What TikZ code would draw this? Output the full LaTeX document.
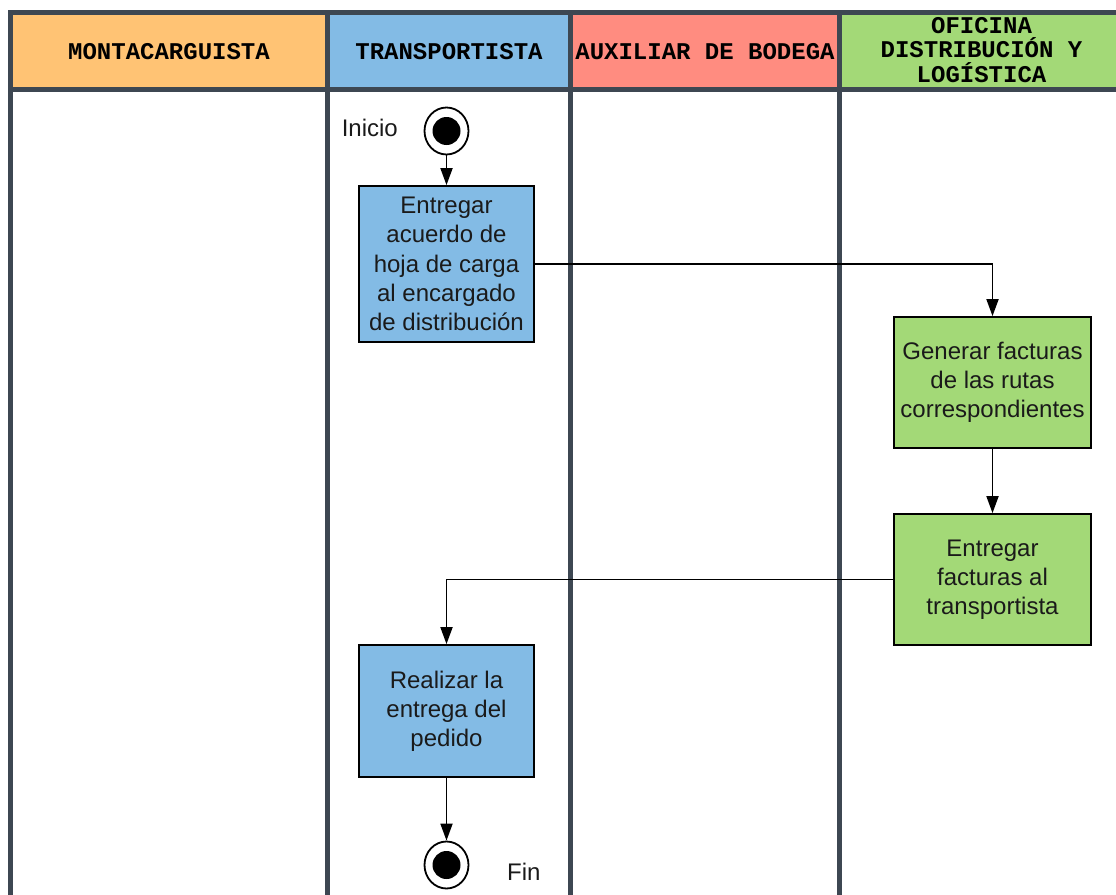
\documentclass[tikz,border=0pt]{standalone}
\usepackage{fontspec}
\setmainfont{Liberation Sans}
\newfontfamily\lanefont{Liberation Mono}
\usetikzlibrary{arrows.meta,shapes.geometric}

\definecolor{laneline}{HTML}{3D4752}
\definecolor{hdrorange}{HTML}{FFC374}
\definecolor{hdrblue}{HTML}{83BBE5}
\definecolor{hdrred}{HTML}{FF8C80}
\definecolor{hdrgreen}{HTML}{A3D977}
\definecolor{ink}{HTML}{1A1A1A}

\tikzset{
  lanerule/.style={draw=laneline, line width=5pt},
  hdrtext/.style={font=\lanefont\bfseries\fontsize{24}{24.5}\selectfont,
    text=black, align=center, inner sep=0pt},
  task/.style={draw=black, line width=1.8pt, rectangle, inner sep=0pt,
    align=center, text=ink, font=\fontsize{24}{29.2}\selectfont},
  bluetask/.style={task, fill=hdrblue},
  greentask/.style={task, fill=hdrgreen},
  outerring/.style={ellipse, draw=black, line width=1.8pt, fill=white,
    minimum width=44pt, minimum height=47pt, inner sep=0pt},
  dot/.style={circle, fill=black, minimum size=28pt, inner sep=0pt},
  flow/.style={draw=black, line width=1.8pt,
    -{Triangle[length=17pt,width=12pt]}},
  plain/.style={font=\fontsize{24}{29}\selectfont, text=ink, inner sep=0pt}
}

\begin{document}
\begin{tikzpicture}[x=1pt, y=-1pt]
  \useasboundingbox (0,0) rectangle (1116,894);

  % header cells
  \fill[hdrorange] (10.5,12.5) rectangle (327.5,89);
  \fill[hdrblue]   (327.5,12.5) rectangle (570.5,89);
  \fill[hdrred]    (570.5,12.5) rectangle (839.5,89);
  \fill[hdrgreen]  (839.5,12.5) rectangle (1126,89);

  % lane frame
  \draw[lanerule] (8,12.5) -- (1130,12.5);
  \draw[lanerule] (8,89) -- (1130,89);
  \foreach \lx in {10.5,327.5,570.5,839.5}
    \draw[lanerule] (\lx,10) -- (\lx,900);

  % lane titles
  \node[hdrtext] (h1) at (169,52) {MONTACARGUISTA};
  \node[hdrtext] (h2) at (449,52) {TRANSPORTISTA};
  \node[hdrtext] (h3) at (705,52) {AUXILIAR DE BODEGA};
  \node[hdrtext] (h4) at (981.5,50) {OFICINA\\DISTRIBUCIÓN Y\\LOGÍSTICA};

  % start and end states
  \node[outerring] (s) at (446.5,131) {};
  \node[dot] at (s.center) (sdot) {};
  \node[plain, anchor=east] (lini) at (398,128) {Inicio};

  \node[outerring] (e) at (446.5,865) {};
  \node[dot] at (e.center) (edot) {};
  \node[plain, anchor=west] (lfin) at (507,872) {Fin};

  % activities
  \node[bluetask, minimum width=175pt, minimum height=156pt] (a1) at (446.5,264)
    {Entregar\\acuerdo de\\hoja de carga\\al encargado\\de distribución};
  \node[greentask, minimum width=197pt, minimum height=131pt] (a2) at (992.5,382.5)
    {Generar facturas\\de las rutas\\correspondientes};
  \node[greentask, minimum width=197pt, minimum height=131pt] (a3) at (992.5,579.5)
    {Entregar\\facturas al\\transportista};
  \node[bluetask, minimum width=175pt, minimum height=132pt] (a4) at (446.5,711)
    {Realizar la\\entrega del\\pedido};

  % control flow
  \draw[flow] (s) -- (a1);
  \draw[flow] (a1.east) -| (a2.north);
  \draw[flow] (a2) -- (a3);
  \draw[flow] (a3.west) -| (a4.north);
  \draw[flow] (a4) -- (e);
\end{tikzpicture}
\end{document}
